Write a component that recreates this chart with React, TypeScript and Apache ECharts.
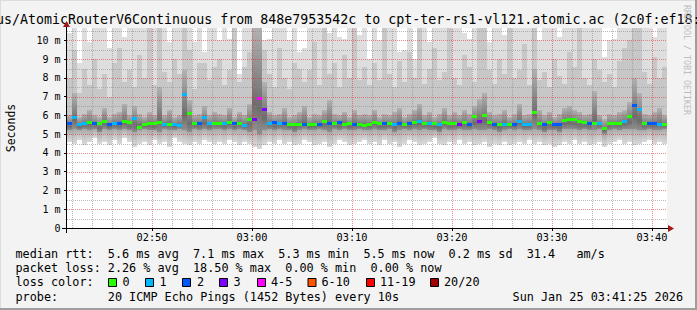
import React, { useEffect, useRef } from 'react';
import * as echarts from 'echarts';

const MONO = '"DejaVu Sans Mono", monospace';

const titleText = 'us/AtomicRouterV6Continuous from 848e7953542c to cpt-ter-rs1-vl121.atomic.ac (2c0f:ef18:';
const yAxisName = 'Seconds';
const watermark = 'RRDTOOL / TOBI OETIKER';

// graph window: 60 minutes ending 03:41:30, 30 s per consolidated step
const startParts = [2026, 0, 25, 2, 41, 30];
const stepSeconds = 30;
const windowSeconds = 3600;
const yMaxMs = 10.66;

// median RTT per step (ms)
const medianMs = [
  5.55, 5.9, 5.52, 5.55, 5.6, 5.55, 5.55, 5.65, 5.5, 5.55, 5.55, 5.7, 5.62, 5.85, 5.35, 5.52, 5.55, 5.55, 5.6, 5.52, 5.52, 5.5, 5.48, 7.1, 6.1, 5.55, 5.58, 5.9, 5.55, 5.55,
  5.55, 5.58, 5.6, 5.55, 5.55, 5.48, 5.8, 5.8, 6.9, 6.3, 5.55, 5.6, 5.57, 5.58, 5.5, 5.5, 5.5, 5.52, 5.52, 5.53, 5.5, 5.65, 5.58, 5.56, 5.6, 5.52, 5.55, 5.52, 5.52, 5.48,
  5.52, 5.63, 5.55, 5.56, 5.55, 5.53, 5.58, 5.52, 5.58, 5.6, 5.7, 5.56, 5.58, 5.57, 5.54, 5.62, 5.57, 5.55, 5.53, 5.63, 5.53, 5.95, 5.65, 6.0, 5.6, 5.52, 5.53, 5.52, 5.52, 5.5,
  5.7, 5.52, 5.52, 6.15, 5.55, 5.5, 5.62, 5.5, 5.52, 5.75, 5.78, 5.78, 5.68, 5.6, 5.58, 5.55, 5.56, 5.3, 5.55, 5.55, 5.55, 5.65, 5.95, 6.55, 6.3, 5.55, 5.55, 5.58, 5.53, 5.5,
];

// loss class per step (index into lossLabels)
const lossClass = [
  2, 1, 1, 1, 0, 2, 0, 0, 2, 1, 2, 0, 0, 1, 0, 0, 0, 0, 0, 1, 0, 1, 1, 1, 0, 0, 2, 1, 1, 0,
  0, 1, 0, 2, 0, 1, 0, 3, 4, 3, 1, 2, 1, 2, 0, 0, 0, 2, 0, 0, 2, 0, 2, 0, 2, 0, 0, 2, 0, 0,
  0, 0, 0, 2, 0, 1, 2, 0, 2, 0, 1, 0, 1, 0, 1, 0, 0, 0, 3, 0, 2, 0, 3, 0, 0, 2, 0, 1, 0, 2,
  1, 1, 1, 0, 0, 2, 0, 2, 2, 0, 0, 0, 0, 0, 2, 0, 1, 0, 0, 0, 0, 1, 0, 2, 1, 0, 2, 2, 1, 0,
];

// smoke: lowest ping, lower dark edge, upper dark edge, upper mid edge, highest ping (ms)
const smokeMin = [
  4.6, 4.5, 4.7, 4.4, 4.6, 4.8, 4.5, 4.6, 4.4, 4.7, 4.5, 4.8, 4.6, 4.3, 4.5, 4.6, 4.4, 4.7, 4.5, 4.6, 4.3, 4.8, 4.6, 4.5, 4.4, 4.6, 4.5, 4.7, 4.6, 4.5,
  4.6, 4.5, 4.7, 4.6, 4.4, 4.6, 4.5, 4.3, 4.2, 4.4, 4.6, 4.5, 4.7, 4.5, 4.6, 4.4, 4.5, 4.7, 4.6, 4.4, 4.5, 4.6, 4.3, 4.5, 4.7, 4.6, 4.4, 4.5, 4.6, 4.7,
  4.5, 4.6, 4.4, 4.7, 4.5, 4.6, 4.3, 4.5, 4.7, 4.6, 4.4, 4.5, 4.6, 4.8, 4.5, 4.4, 4.6, 4.5, 4.7, 4.5, 4.6, 4.4, 4.5, 4.6, 4.3, 4.5, 4.4, 4.6, 4.4, 4.5,
  4.6, 4.5, 4.7, 4.5, 4.6, 4.4, 4.5, 4.3, 4.4, 4.6, 4.5, 4.7, 4.5, 4.6, 4.4, 4.5, 4.6, 4.3, 4.5, 4.6, 4.7, 4.5, 4.6, 4.4, 4.5, 4.6, 4.7, 4.5, 4.6, 4.5,
];
const smokeLo = [
  5.2, 5.3, 5.2, 5.3, 5.2, 5.3, 5.1, 5.3, 5.2, 5.3, 5.2, 5.3, 5.2, 5.1, 5.2, 5.3, 5.2, 5.2, 5.1, 5.3, 5.2, 5.2, 5.3, 5.2, 5.1, 5.3, 5.2, 5.3, 5.2, 5.3,
  5.3, 5.2, 5.3, 5.2, 5.3, 5.2, 5.1, 5.2, 5.0, 5.2, 5.3, 5.2, 5.3, 5.2, 5.2, 5.1, 5.2, 5.3, 5.2, 5.2, 5.3, 5.2, 5.1, 5.3, 5.2, 5.3, 5.2, 5.2, 5.3, 5.2,
  5.2, 5.3, 5.2, 5.2, 5.3, 5.1, 5.2, 5.3, 5.2, 5.3, 5.2, 5.3, 5.2, 5.2, 5.1, 5.3, 5.2, 5.2, 5.3, 5.2, 5.2, 5.3, 5.2, 5.2, 5.3, 5.2, 5.1, 5.2, 5.3, 5.2,
  5.3, 5.2, 5.2, 5.3, 5.2, 5.1, 5.2, 5.2, 5.1, 5.3, 5.3, 5.3, 5.2, 5.3, 5.2, 5.2, 5.3, 5.0, 5.2, 5.3, 5.2, 5.3, 5.3, 5.3, 5.2, 5.2, 5.3, 5.2, 5.2, 5.3,
];
const smokeHi = [
  6.0, 7.2, 5.9, 6.1, 6.3, 6.0, 5.9, 6.4, 5.9, 6.1, 6.2, 6.6, 6.0, 6.5, 6.1, 5.9, 6.2, 6.0, 7.5, 6.0, 6.3, 5.9, 6.0, 8.4, 6.8, 6.0, 6.1, 6.5, 6.0, 6.2,
  6.1, 6.0, 6.4, 5.9, 6.2, 6.0, 6.6, 10.7, 10.7, 7.8, 6.2, 6.0, 6.1, 6.4, 5.9, 6.0, 6.2, 6.5, 5.9, 6.1, 6.0, 6.3, 6.8, 6.1, 6.0, 6.2, 5.9, 6.3, 6.0, 6.1,
  6.0, 6.3, 5.9, 6.1, 6.0, 6.2, 6.4, 5.9, 6.1, 6.3, 6.6, 6.0, 6.2, 5.9, 6.1, 6.4, 6.0, 6.2, 6.0, 6.3, 6.1, 6.5, 6.9, 7.2, 6.2, 6.0, 6.1, 6.3, 5.9, 6.1,
  6.6, 6.0, 6.1, 8.5, 6.3, 6.0, 6.2, 5.9, 6.1, 6.4, 6.5, 6.3, 6.2, 6.0, 6.1, 7.3, 6.0, 5.8, 6.1, 6.0, 6.2, 6.3, 6.7, 8.0, 7.2, 6.1, 6.0, 6.2, 6.4, 6.0,
];
const smokeUp = [
  8.0, 9.5, 7.2, 8.5, 7.6, 9.0, 7.4, 8.2, 7.0, 8.8, 9.6, 7.8, 8.4, 7.5, 9.2, 8.0, 10.7, 7.6, 10.7, 8.3, 7.8, 9.0, 8.2, 10.7, 9.5, 7.4, 8.8, 8.8, 7.9, 8.6,
  9.0, 7.6, 8.4, 10.7, 7.8, 8.6, 9.4, 10.7, 10.7, 9.5, 8.2, 7.5, 9.6, 8.0, 7.4, 8.8, 8.5, 7.8, 8.4, 9.9, 7.6, 10.7, 8.2, 8.8, 7.5, 9.2, 8.0, 10.7, 7.9, 8.6,
  7.6, 8.8, 7.9, 10.7, 8.2, 7.5, 8.9, 7.8, 9.4, 8.0, 10.7, 7.7, 8.5, 9.6, 7.9, 8.3, 10.7, 8.0, 7.6, 9.2, 8.6, 7.8, 10.7, 10.7, 8.4, 7.7, 9.0, 8.2, 10.7, 8.0,
  8.4, 9.8, 7.6, 10.7, 7.9, 8.3, 7.5, 9.0, 8.1, 7.7, 9.4, 8.6, 10.7, 8.0, 7.6, 9.0, 8.4, 7.8, 8.2, 7.5, 8.9, 9.6, 10.0, 10.7, 10.7, 8.3, 7.7, 9.1, 8.0, 8.6,
];
const smokeMax = [
  10.4, 10.7, 8.8, 10.7, 9.9, 10.7, 10.7, 10.7, 9.6, 10.7, 10.7, 10.2, 10.7, 10.7, 10.7, 10.7, 10.7, 10.7, 10.7, 10.7, 9.9, 10.7, 10.7, 10.7, 10.7, 9.9, 10.7, 9.4, 10.7, 10.7,
  10.0, 10.7, 10.1, 10.7, 8.2, 10.7, 10.7, 10.7, 10.7, 10.0, 10.1, 10.7, 10.7, 10.7, 10.0, 10.7, 9.4, 9.6, 10.7, 10.7, 10.7, 10.7, 10.4, 10.7, 10.2, 10.1, 10.7, 10.7, 10.3, 10.7,
  9.0, 10.7, 10.0, 10.7, 10.7, 10.7, 9.4, 9.5, 10.7, 9.0, 10.7, 10.7, 9.9, 10.7, 10.7, 10.7, 10.7, 10.7, 10.7, 10.4, 10.1, 10.7, 10.7, 10.7, 9.9, 10.7, 10.7, 10.3, 10.7, 10.7,
  10.7, 10.7, 10.7, 10.7, 10.0, 10.7, 10.7, 10.7, 10.2, 10.7, 10.7, 10.7, 10.7, 10.7, 10.7, 10.7, 10.7, 9.1, 10.0, 10.1, 10.7, 10.7, 10.7, 10.7, 10.7, 10.7, 10.7, 10.2, 10.7, 10.7,
];

const lossLabels = ['0', '1', '2', '3', '4-5', '6-10', '11-19', '20/20'];
const lossColors = ['#26ff00', '#00b8ff', '#0059ff', '#7e00ff', '#ff00ff', '#ff5500', '#ff0000', '#a10000'];

const xMajorTicks = ['02:50', '03:00', '03:10', '03:20', '03:30', '03:40'];
const xMinorGrid = [
  '02:42', '02:44', '02:46', '02:48', '02:52', '02:54', '02:56', '02:58',
  '03:02', '03:04', '03:06', '03:08', '03:12', '03:14', '03:16', '03:18',
  '03:22', '03:24', '03:26', '03:28', '03:32', '03:34', '03:36', '03:38', '03:42',
];
const yTicks = [0, 1, 2, 3, 4, 5, 6, 7, 8, 9, 10];
const yMinorGrid = [0.5, 1.5, 2.5, 3.5, 4.5, 5.5, 6.5, 7.5, 8.5, 9.5, 10.5];

const statsRtt = [
  ['median rtt:', 0], ['5.6 ms avg', 13], ['7.1 ms max', 25], ['5.3 ms min', 37],
  ['5.5 ms now', 49], ['0.2 ms sd', 61], ['31.4', 72], ['am/s', 79],
] as [string, number][];
const statsLoss = [
  ['packet loss:', 0], ['2.26 % avg', 13], ['18.50 % max', 25], ['0.00 % min', 38], ['0.00 % now', 50],
] as [string, number][];
const lossColorTitle = 'loss color:';
const probeLabel = 'probe:';
const probeText = '20 ICMP Echo Pings (1452 Bytes) every 10s';
const dateText = 'Sun Jan 25 03:41:25 2026';

function hm(s: string): number {
  const [h, m] = s.split(':').map(Number);
  return new Date(2026, 0, 25, h, m, 0).getTime();
}

export default function App() {
  const ref = useRef<HTMLDivElement>(null);

  useEffect(() => {
    document.body.style.margin = '0';
    if (!ref.current) return;
    const chart = echarts.init(ref.current, undefined, { renderer: 'svg' });

    const start = new Date(startParts[0], startParts[1], startParts[2], startParts[3], startParts[4], startParts[5]).getTime();
    const end = start + windowSeconds * 1000;
    const stepMs = stepSeconds * 1000;

    const smokeData = medianMs.map((_, i) => [
      start + i * stepMs, start + (i + 1) * stepMs,
      smokeMin[i], smokeLo[i], smokeHi[i], smokeUp[i], smokeMax[i],
    ]);
    const medianData = medianMs.map((m, i) => [start + i * stepMs, start + (i + 1) * stepMs, m, lossClass[i]]);
    const vGridData = [
      ...xMinorGrid.map((s) => [hm(s), 0]),
      ...xMajorTicks.map((s) => [hm(s), 1]),
    ];
    const hGridData = [
      ...yMinorGrid.map((v) => [v, 0]),
      ...yTicks.filter((v) => v > 0).map((v) => [v, 1]),
    ];

    const minorColor = 'rgba(140,140,140,0.6)';
    const majorColor = 'rgba(222,48,48,0.55)';

    const lowFill = new echarts.graphic.LinearGradient(0, 0, 0, 1, [
      { offset: 0, color: '#a8a8a8' }, { offset: 0.5, color: '#c4c4c4' }, { offset: 1, color: '#dadada' },
    ]);
    const coreFill = new echarts.graphic.LinearGradient(0, 0, 0, 1, [
      { offset: 0, color: '#b2b2b2' }, { offset: 0.45, color: '#8a8a8a' }, { offset: 0.75, color: '#6c6c6c' }, { offset: 1, color: '#8e8e8e' },
    ]);

    const txt = (text: string, x: number, y: number, size: number, extra: any = {}) => ({
      type: 'text', x, y, z: 20,
      style: { text, fontSize: size, fontFamily: MONO, fill: '#000', align: 'left', verticalAlign: 'middle', ...(extra.style || {}) },
      ...(extra.el || {}),
    });

    const colX = (c: number) => 15.5 + c * 7.1;
    const rowY = [254, 268.3, 282.3, 296.7];
    const boxX = [108, 145, 182, 219, 257, 307.5, 366, 430];
    const boxLabelX = [122.5, 159.5, 197, 233.5, 271, 321.5, 380, 444];

    const graphics: any[] = [
      { type: 'line', z: 20, shape: { x1: 0, y1: 0.5, x2: 697, y2: 0.5 }, style: { stroke: '#dcdcdc', lineWidth: 1 } },
      { type: 'line', z: 20, shape: { x1: 0.5, y1: 0, x2: 0.5, y2: 310 }, style: { stroke: '#dcdcdc', lineWidth: 1 } },
      { type: 'line', z: 20, shape: { x1: 696, y1: 0, x2: 696, y2: 310 }, style: { stroke: '#9e9e9e', lineWidth: 2 } },
      { type: 'line', z: 20, shape: { x1: 0, y1: 309, x2: 697, y2: 309 }, style: { stroke: '#9e9e9e', lineWidth: 2 } },
      // axes
      { type: 'line', z: 20, shape: { x1: 62, y1: 228.5, x2: 669, y2: 228.5 }, style: { stroke: '#000', lineWidth: 1 } },
      { type: 'line', z: 20, shape: { x1: 66.5, y1: 233, x2: 66.5, y2: 26 }, style: { stroke: '#000', lineWidth: 1 } },
      { type: 'polygon', z: 21, shape: { points: [[668, 225], [674, 228.5], [668, 232]] }, style: { fill: '#a01818' } },
      { type: 'polygon', z: 21, shape: { points: [[63, 27], [66.5, 21], [70, 27]] }, style: { fill: '#a01818' } },
      txt(titleText, -4, 19.4, 13.3),
      txt(yAxisName, 10.5, 128, 11.5, { style: { align: 'center' }, el: { rotation: Math.PI / 2 } }),
      txt(watermark, 686.5, 60, 8.3, { style: { align: 'center', fill: '#bdbdbd' }, el: { rotation: -Math.PI / 2 } }),
      ...statsRtt.map(([t, c]) => txt(t, colX(c), rowY[0], 11.8)),
      ...statsLoss.map(([t, c]) => txt(t, colX(c), rowY[1], 11.8)),
      txt(lossColorTitle, colX(0), rowY[2], 11.8),
      ...lossLabels.map((l, i) => txt(l, boxLabelX[i], rowY[2], 11.8)),
      ...lossColors.map((c, i) => ({
        type: 'rect', z: 20,
        shape: { x: boxX[i] + 0.5, y: 278.5, width: 8, height: 8 },
        style: { fill: c, stroke: '#000', lineWidth: 1 },
      })),
      txt(probeLabel, colX(0), rowY[3], 11.8),
      txt(probeText, colX(13), rowY[3], 11.8),
      txt(dateText, 683, rowY[3], 11.8, { style: { align: 'right' } }),
    ];

    chart.setOption({
      animation: false,
      backgroundColor: '#f3f3f3',
      grid: { left: 67, top: 28, width: 600, height: 200, show: true, backgroundColor: '#ffffff', borderWidth: 0 },
      xAxis: {
        type: 'value', min: start, max: end,
        axisLine: { show: false },
        splitLine: { show: false },
        axisTick: { show: true, customValues: xMajorTicks.map(hm), length: 3, lineStyle: { color: '#000' } },
        axisLabel: {
          customValues: xMajorTicks.map(hm),
          formatter: (v: number) => {
            const d = new Date(v);
            return `${String(d.getHours()).padStart(2, '0')}:${String(d.getMinutes()).padStart(2, '0')}`;
          },
          fontFamily: MONO, fontSize: 10.3, color: '#000', margin: 9, verticalAlign: 'middle',
        },
      },
      yAxis: {
        type: 'value', min: 0, max: yMaxMs, interval: 1,
        axisLine: { show: false },
        splitLine: { show: false },
        axisTick: { show: true, customValues: yTicks, length: 3, lineStyle: { color: '#000' } },
        axisLabel: {
          customValues: yTicks,
          formatter: (v: number) => (v === 0 ? '0' : `${v} m`),
          fontFamily: MONO, fontSize: 10, color: '#000', margin: 6.5,
        },
      },
      graphic: { elements: graphics },
      series: [
        {
          type: 'custom', z: 2, clip: true, silent: true,
          data: smokeData,
          renderItem: (_p: any, api: any) => {
            const t0 = api.value(0);
            const t1 = api.value(1);
            const xa = Math.round(api.coord([t0, 0])[0]);
            const xb = Math.round(api.coord([t1, 0])[0]);
            const py = (d: number) => Math.round(api.coord([t0, Math.min(api.value(d), yMaxMs + 0.2)])[1]);
            const yMin = py(2), yLo = py(3), yHi = py(4), yUp = py(5), yMx = py(6);
            const rect = (top: number, bottom: number, fill: any) => ({
              type: 'rect',
              shape: { x: xa, y: top, width: xb - xa, height: Math.max(0, bottom - top) },
              style: { fill },
            });
            return {
              type: 'group',
              children: [
                rect(yLo, yMin, lowFill),
                rect(yHi, yLo, coreFill),
                rect(yUp, yHi, '#c7c7c7'),
                rect(yMx, yUp, '#dedede'),
              ],
            };
          },
        },
        {
          type: 'custom', z: 3, clip: true, silent: true,
          data: vGridData,
          renderItem: (_p: any, api: any) => {
            const t = api.value(0);
            const x = Math.round(api.coord([t, 0])[0]) + 0.5;
            const yb = api.coord([t, 0])[1];
            const yt = api.coord([t, yMaxMs])[1];
            return {
              type: 'line',
              shape: { x1: x, y1: yb, x2: x, y2: yt },
              style: { stroke: api.value(1) === 1 ? majorColor : minorColor, lineWidth: 1, lineDash: [1, 1] },
            };
          },
        },
        {
          type: 'custom', z: 3, clip: true, silent: true,
          data: hGridData,
          renderItem: (_p: any, api: any) => {
            const v = api.value(0);
            const y = Math.round(api.coord([start, v])[1]) + 0.5;
            const xa = api.coord([start, v])[0];
            const xb = api.coord([end, v])[0];
            return {
              type: 'line',
              shape: { x1: xa, y1: y, x2: xb, y2: y },
              style: { stroke: api.value(1) === 1 ? majorColor : minorColor, lineWidth: 1, lineDash: [1, 1] },
            };
          },
        },
        {
          type: 'custom', z: 4, clip: true, silent: true,
          data: medianData,
          renderItem: (_p: any, api: any) => {
            const t0 = api.value(0);
            const t1 = api.value(1);
            const xa = Math.round(api.coord([t0, 0])[0]);
            const xb = Math.round(api.coord([t1, 0])[0]);
            const y = api.coord([t0, api.value(2)])[1];
            return {
              type: 'rect',
              shape: { x: xa, y: Math.round(y - 1.5), width: xb - xa, height: 3 },
              style: { fill: lossColors[api.value(3)] },
            };
          },
        },
      ],
    });

    return () => chart.dispose();
  }, []);

  return <div ref={ref} style={{ width: 697, height: 310 }} />;
}
